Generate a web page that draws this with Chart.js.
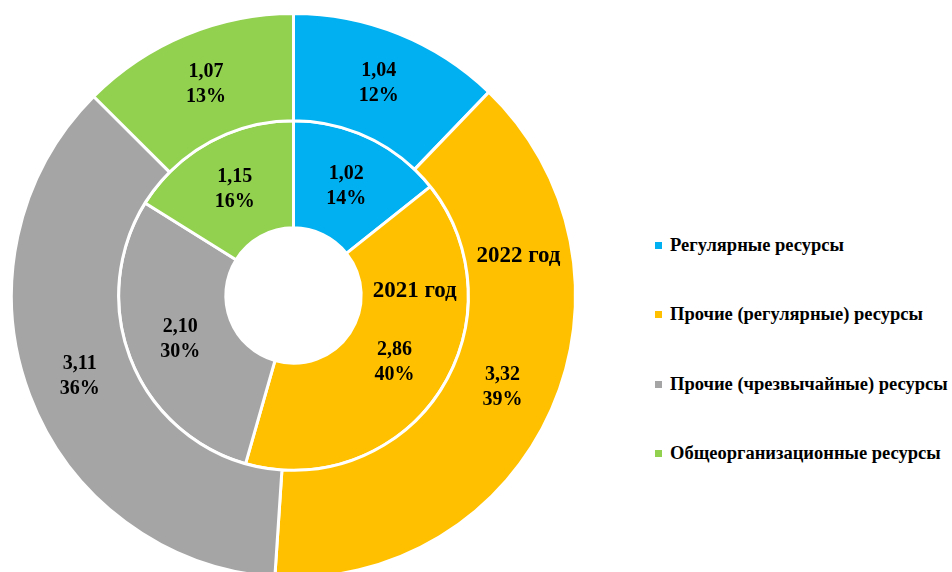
<!DOCTYPE html>
<html lang="ru">
<head>
<meta charset="utf-8">
<title>Ресурсы 2021–2022</title>
<script src="https://cdn.jsdelivr.net/npm/chart.js@4.4.1/dist/chart.umd.min.js"></script>
<style>
  html, body { margin: 0; padding: 0; background: #fff; overflow: hidden; }
  body { width: 952px; height: 572px; position: relative; }
  #wrap { position: absolute; left: 0; top: 0; width: 588px; height: 590px; }
  #legend { position: absolute; left: 655px; top: 0; font-family: "Liberation Serif", "Times New Roman", serif;
            font-weight: bold; font-size: 18.5px; color: #000; }
  .item { position: absolute; left: 0; white-space: nowrap; display: flex; align-items: center; }
  .box { width: 7px; height: 7px; margin-right: 8px; }
</style>
</head>
<body>
<div id="wrap"><canvas id="chart" width="588" height="590"></canvas></div>
<div id="legend"></div>
<script>
// categories and values
const categories = ['Регулярные ресурсы', 'Прочие (регулярные) ресурсы', 'Прочие (чрезвычайные) ресурсы', 'Общеорганизационные ресурсы'];
const colors = ['#00B0F0', '#FFC000', '#A5A5A5', '#92D050'];
const seriesNames = ['2022 год', '2021 год'];   // outer ring first
const values2022 = [1.04, 3.32, 3.11, 1.07];
const values2021 = [1.02, 2.86, 2.10, 1.15];

// where the ring names sit: angle in degrees clockwise from top, inside the ring
const nameAngles = [80, 88];

const serif = '"Liberation Serif", "Times New Roman", serif';

// percentages that add up to 100 (largest remainder)
function percents(data) {
  const total = data.reduce((a, b) => a + b, 0);
  const raw = data.map(v => v / total * 100);
  const out = raw.map(Math.floor);
  let left = 100 - out.reduce((a, b) => a + b, 0);
  raw.map((r, i) => [r - Math.floor(r), i])
    .sort((a, b) => b[0] - a[0])
    .forEach(([, i]) => { if (left > 0) { out[i]++; left--; } });
  return out;
}

// value + percent labels on each slice, and the year label in each ring
const sliceLabels = {
  id: 'sliceLabels',
  afterDatasetsDraw(chart) {
    const ctx = chart.ctx;
    ctx.save();
    ctx.fillStyle = '#000';
    ctx.textAlign = 'center';
    ctx.textBaseline = 'middle';
    chart.data.datasets.forEach((ds, di) => {
      const meta = chart.getDatasetMeta(di);
      const pct = percents(ds.data);
      ctx.font = 'bold 20px ' + serif;
      meta.data.forEach((arc, i) => {
        const p = arc.tooltipPosition();
        ctx.fillText(ds.data[i].toFixed(2).replace('.', ','), p.x, p.y - 12.5);
        ctx.fillText(pct[i] + '%', p.x, p.y + 12.5);
      });
      // ring name
      const a0 = meta.data[0];
      const r = (a0.innerRadius + a0.outerRadius) / 2;
      const ang = nameAngles[di] * Math.PI / 180;
      ctx.font = 'bold 23px ' + serif;
      ctx.fillText(ds.label, a0.x + r * Math.sin(ang), a0.y - r * Math.cos(ang));
    });
    ctx.restore();
  }
};

new Chart(document.getElementById('chart'), {
  type: 'doughnut',
  data: {
    labels: categories,
    datasets: [
      { label: seriesNames[0], data: values2022, backgroundColor: colors, borderColor: '#fff', borderWidth: 3 },
      { label: seriesNames[1], data: values2021, backgroundColor: colors, borderColor: '#fff', borderWidth: 3 }
    ]
  },
  options: {
    responsive: false,
    animation: false,
    cutout: '24%',
    layout: { padding: { left: 10, right: 11, top: 12, bottom: 11 } },
    plugins: { legend: { display: false }, tooltip: { enabled: false } }
  },
  plugins: [sliceLabels]
});

// legend on the right
const legend = document.getElementById('legend');
const legendTop = 245, legendStep = 69.5;
categories.forEach((name, i) => {
  const item = document.createElement('div');
  item.className = 'item';
  item.style.top = (legendTop + i * legendStep - 11) + 'px';
  item.style.height = '22px';
  const box = document.createElement('span');
  box.className = 'box';
  box.style.background = colors[i];
  const txt = document.createElement('span');
  txt.textContent = name;
  item.appendChild(box);
  item.appendChild(txt);
  legend.appendChild(item);
});
</script>
</body>
</html>
